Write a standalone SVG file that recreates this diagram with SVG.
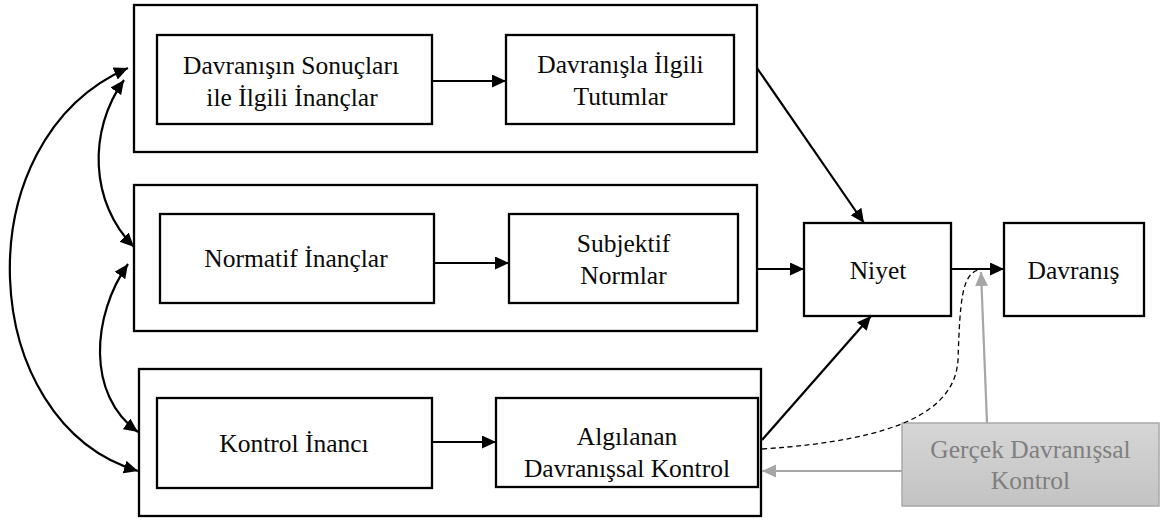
<svg xmlns="http://www.w3.org/2000/svg" width="1163" height="520" viewBox="0 0 1163 520">
  <style>
    .box { fill: #ffffff; stroke: #000000; stroke-width: 2.3; }
    text { font-family: "Liberation Serif", "Times New Roman", serif; font-size: 25.5px; text-anchor: middle; }
    .ink { fill: #0a0a0a; }
    .gcap { fill: #7f7f7f; }
    .arr { fill: none; stroke: #000000; stroke-width: 2.2; marker-end: url(#head); }
    .dbl { fill: none; stroke: #000000; stroke-width: 2.2; marker-start: url(#head); marker-end: url(#head); }
    .garr { fill: none; stroke: #a6a6a6; stroke-width: 2.2; marker-end: url(#ghead); }
    .dash { fill: none; stroke: #000000; stroke-width: 1.3; stroke-dasharray: 5 3.5; }
  </style>
  <defs>
    <marker id="head" markerUnits="userSpaceOnUse" markerWidth="16" markerHeight="14" refX="14" refY="6.5" orient="auto-start-reverse">
      <path d="M0,0 L14,6.5 L0,13 Z" fill="#000000"/>
    </marker>
    <marker id="ghead" markerUnits="userSpaceOnUse" markerWidth="16" markerHeight="14" refX="14" refY="6.5" orient="auto">
      <path d="M0,0 L14,6.5 L0,13 Z" fill="#a6a6a6"/>
    </marker>
    <linearGradient id="grayFill" x1="0" y1="0" x2="0" y2="1">
      <stop offset="0" stop-color="#d6d6d6"/>
      <stop offset="1" stop-color="#c3c3c3"/>
    </linearGradient>
  </defs>

  <!-- attitude group -->
  <g id="group-attitude">
    <rect class="box" x="134" y="5" width="623" height="147"/>
  </g>
  <g id="node-beliefs-outcomes">
    <rect class="box" x="157" y="35" width="275" height="89"/>
    <text class="ink" x="291" y="74">Davranışın Sonuçları</text>
    <text class="ink" x="292" y="106">ile İlgili İnançlar</text>
  </g>
  <g id="node-attitudes">
    <rect class="box" x="506" y="35" width="228" height="89"/>
    <text class="ink" x="620.5" y="73">Davranışla İlgili</text>
    <text class="ink" x="620.5" y="105">Tutumlar</text>
  </g>

  <!-- subjective norm group -->
  <g id="group-norm">
    <rect class="box" x="134" y="185" width="623" height="146"/>
  </g>
  <g id="node-normative-beliefs">
    <rect class="box" x="160" y="214" width="274" height="89"/>
    <text class="ink" x="296" y="267">Normatif İnançlar</text>
  </g>
  <g id="node-subjective-norms">
    <rect class="box" x="509" y="214" width="229" height="89"/>
    <text class="ink" x="623.5" y="252">Subjektif</text>
    <text class="ink" x="623.5" y="283.5">Normlar</text>
  </g>

  <!-- control group -->
  <g id="group-control">
    <rect class="box" x="139" y="369" width="622" height="147"/>
  </g>
  <g id="node-control-beliefs">
    <rect class="box" x="157" y="398" width="275" height="90"/>
    <text class="ink" x="294" y="452">Kontrol İnancı</text>
  </g>
  <g id="node-perceived-control">
    <rect class="box" x="496" y="398" width="262" height="89"/>
    <text class="ink" x="627" y="444.5">Algılanan</text>
    <text class="ink" x="627" y="476.5">Davranışsal Kontrol</text>
  </g>

  <g id="node-intention">
    <rect class="box" x="804" y="223" width="147" height="93"/>
    <text class="ink" x="878" y="278.5">Niyet</text>
  </g>
  <g id="node-behaviour">
    <rect class="box" x="1004" y="223" width="140" height="93"/>
    <text class="ink" x="1073.5" y="278.5">Davranış</text>
  </g>

  <g id="node-actual-control">
    <rect x="902" y="423" width="257" height="83" fill="url(#grayFill)" stroke="#a9a9a9" stroke-width="1.5"/>
    <text class="gcap" x="1030.5" y="458">Gerçek Davranışsal</text>
    <text class="gcap" x="1030.5" y="489">Kontrol</text>
  </g>

  <g id="connectors">
    <!-- correlations between belief groups -->
    <path class="dbl" d="M128,68 C-38,140 -24,423 138,471"/>
    <path class="dbl" d="M124,80 C87.5,131 90,203 134,247"/>
    <path class="dbl" d="M128,264 C92,315 86,395 138,432"/>

    <!-- beliefs to constructs -->
    <path class="arr" d="M432,81 L506,81"/>
    <path class="arr" d="M434,263 L509,263"/>
    <path class="arr" d="M431,442 L496,442"/>

    <!-- constructs to intention -->
    <path class="arr" d="M757,68 L864,223"/>
    <path class="arr" d="M757,269 L804,269"/>
    <path class="arr" d="M762,440 L871,316"/>

    <!-- intention to behaviour -->
    <path class="arr" d="M951,269 L1004,269"/>

    <!-- perceived control moderating behaviour -->
    <path class="dash" d="M762,449 C900,440 955,410 958,360 C960,300 962,275 978,270"/>

    <!-- actual control links -->
    <path class="garr" d="M987,423 L981,272"/>
    <path class="garr" d="M902,471 L762,471"/>
  </g>
</svg>
